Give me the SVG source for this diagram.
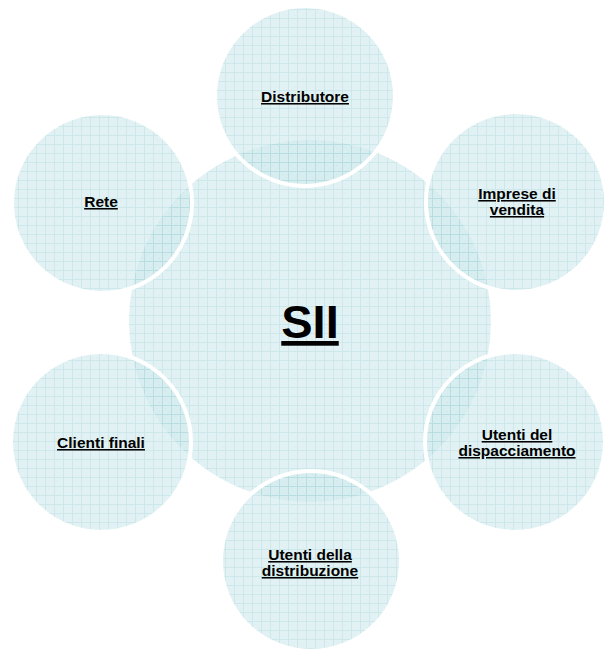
<svg xmlns="http://www.w3.org/2000/svg" width="604" height="653" viewBox="0 0 604 653">
<defs>
<pattern id="grid" patternUnits="userSpaceOnUse" width="9" height="9">
<rect width="9" height="9" fill="#cfe9ec"/>
<rect x="3" y="3" width="1" height="1" fill="#c3e3e6"/>
<rect x="6" y="6" width="1" height="1" fill="#c3e3e6"/>
<path d="M0 0.5H9M0.5 0V9" stroke="#acd8dc" stroke-width="1"/>
</pattern>
</defs>
<style>
.c{fill:url(#grid);fill-opacity:0.6;stroke:#ffffff;stroke-width:4}
.t{font-family:"Liberation Sans",Arial,sans-serif;font-weight:bold;font-size:15.5px;fill:#000;text-anchor:middle;text-decoration:underline}
.big{font-size:47px}
</style>
<g id="connectors"></g>
<g id="center">
<circle cx="310" cy="321" r="181" class="c" style="stroke:none"/>
<text class="t big" x="310" y="338">SII</text>
</g>
<g id="distributore">
<circle cx="305" cy="96" r="90" class="c"/>
<text class="t" x="305" y="102">Distributore</text>
</g>
<g id="imprese">
<circle cx="516" cy="202" r="90" class="c"/>
<text class="t" x="517" y="199">Imprese di</text>
<text class="t" x="517" y="215">vendita</text>
</g>
<g id="dispacciamento">
<circle cx="515" cy="442" r="90" class="c"/>
<text class="t" x="517" y="440">Utenti del</text>
<text class="t" x="517" y="456">dispacciamento</text>
</g>
<g id="distribuzione">
<circle cx="311" cy="561" r="90" class="c"/>
<text class="t" x="310" y="560">Utenti della</text>
<text class="t" x="310" y="576">distribuzione</text>
</g>
<g id="clienti">
<circle cx="101" cy="442" r="90" class="c"/>
<text class="t" x="101" y="448">Clienti finali</text>
</g>
<g id="rete">
<circle cx="102" cy="203" r="90" class="c"/>
<text class="t" x="101" y="207">Rete</text>
</g>
</svg>
